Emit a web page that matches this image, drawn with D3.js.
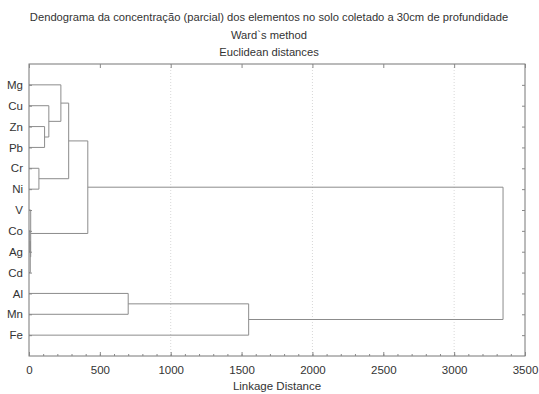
<!DOCTYPE html>
<html>
<head>
<meta charset="utf-8">
<script src="https://cdn.jsdelivr.net/npm/d3@7"></script>
<style>
  body { margin: 0; background: #fff; }
  text { font-family: "Liberation Sans", Arial, sans-serif; fill: #333; }
</style>
</head>
<body>
<script>
// leaves, top to bottom
const elements = ["Mg", "Cu", "Zn", "Pb", "Cr", "Ni", "V", "Co", "Ag", "Cd", "Al", "Mn", "Fe"];

// [left, right, linkage distance]; a number refers to an earlier row
const linkage = [
  ["Zn", "Pb", 110],
  ["Cu", 0, 140],
  ["Mg", 1, 225],
  ["Cr", "Ni", 70],
  [2, 3, 280],
  ["Co", "Ag", 6],
  [5, "Cd", 9],
  ["V", 6, 12],
  [4, 7, 415],
  ["Al", "Mn", 700],
  [9, "Fe", 1550],
  [8, 10, 3345],
];

const xTicks = [0, 500, 1000, 1500, 2000, 2500, 3000, 3500];
const gridTicks = [1000, 2000, 3000];

const titleLines = [
  "Dendograma da concentração (parcial) dos elementos no solo coletado a 30cm de profundidade",
  "Ward`s method",
  "Euclidean distances",
];

const W = 539, H = 394;
const margin = { top: 64, right: 14, bottom: 38, left: 29 };

const svg = d3.select("body").append("svg")
  .attr("width", W)
  .attr("height", H);

const x = d3.scaleLinear().domain([0, 3500]).range([margin.left, W - margin.right]);
const y = d3.scalePoint().domain(elements).range([margin.top, H - margin.bottom]).padding(1);

// build the tree out of the linkage rows
const nodes = [];
const toNode = (k) => (typeof k === "number" ? nodes[k] : { name: k, dist: 0 });
linkage.forEach(([a, b, d]) => nodes.push({ dist: d, children: [toNode(a), toNode(b)] }));
const root = d3.hierarchy(nodes[nodes.length - 1]);
root.eachAfter((n) => {
  n.yPos = n.children ? d3.mean(n.children, (c) => c.yPos) : y(n.data.name);
});

// titles
svg.selectAll(".title")
  .data(titleLines)
  .enter()
  .append("text")
  .attr("class", "title")
  .attr("x", 269)
  .attr("y", (d, i) => 21 + i * 17.5)
  .attr("text-anchor", "middle")
  .style("font-size", "11.2px")
  .text((d) => d);

// dotted grid
svg.selectAll(".grid")
  .data(gridTicks)
  .enter()
  .append("line")
  .attr("x1", (d) => x(d))
  .attr("x2", (d) => x(d))
  .attr("y1", margin.top)
  .attr("y2", H - margin.bottom)
  .attr("stroke", "#d8d8d8")
  .attr("stroke-dasharray", "1,2");

// tree links
const g = svg.append("g")
  .attr("fill", "none")
  .attr("stroke", "#8c8c8c")
  .attr("stroke-width", 1);

root.each((n) => {
  if (!n.children) return;
  const [a, b] = n.children;
  n.children.forEach((c) => {
    g.append("line")
      .attr("x1", x(c.data.dist)).attr("x2", x(n.data.dist))
      .attr("y1", c.yPos).attr("y2", c.yPos);
  });
  g.append("line")
    .attr("x1", x(n.data.dist)).attr("x2", x(n.data.dist))
    .attr("y1", a.yPos).attr("y2", b.yPos);
});

// frame
svg.append("rect")
  .attr("x", margin.left)
  .attr("y", margin.top)
  .attr("width", W - margin.left - margin.right)
  .attr("height", H - margin.top - margin.bottom)
  .attr("fill", "none")
  .attr("stroke", "#777");

// axes (ticks pointing inside)
const axisBottomG = svg.append("g")
  .attr("transform", `translate(0,${H - margin.bottom})`)
  .call(d3.axisBottom(x).tickValues(d3.range(0, 3501, 100)).tickSize(-2).tickFormat(""));
axisBottomG.append("g")
  .call(d3.axisBottom(x).tickValues(xTicks).tickSize(-4).tickPadding(10).tickFormat(d3.format("d")));

const axisTopG = svg.append("g")
  .attr("transform", `translate(0,${margin.top})`)
  .call(d3.axisTop(x).tickValues(xTicks).tickSize(-4).tickFormat(""));

const axisLeftG = svg.append("g")
  .attr("transform", `translate(${margin.left},0)`)
  .call(d3.axisLeft(y).tickSize(-3).tickPadding(6));

const axisRightG = svg.append("g")
  .attr("transform", `translate(${W - margin.right},0)`)
  .call(d3.axisRight(y).tickSize(-3).tickFormat(""));

[axisBottomG, axisTopG, axisLeftG, axisRightG].forEach((a) => {
  a.selectAll(".domain").remove();
  a.selectAll("line").attr("stroke", "#888");
  a.selectAll("text").style("font-size", "11.5px").style("fill", "#333");
});

svg.append("text")
  .attr("x", x(1750))
  .attr("y", H - 4)
  .attr("text-anchor", "middle")
  .style("font-size", "11.5px")
  .text("Linkage Distance");
</script>
</body>
</html>
